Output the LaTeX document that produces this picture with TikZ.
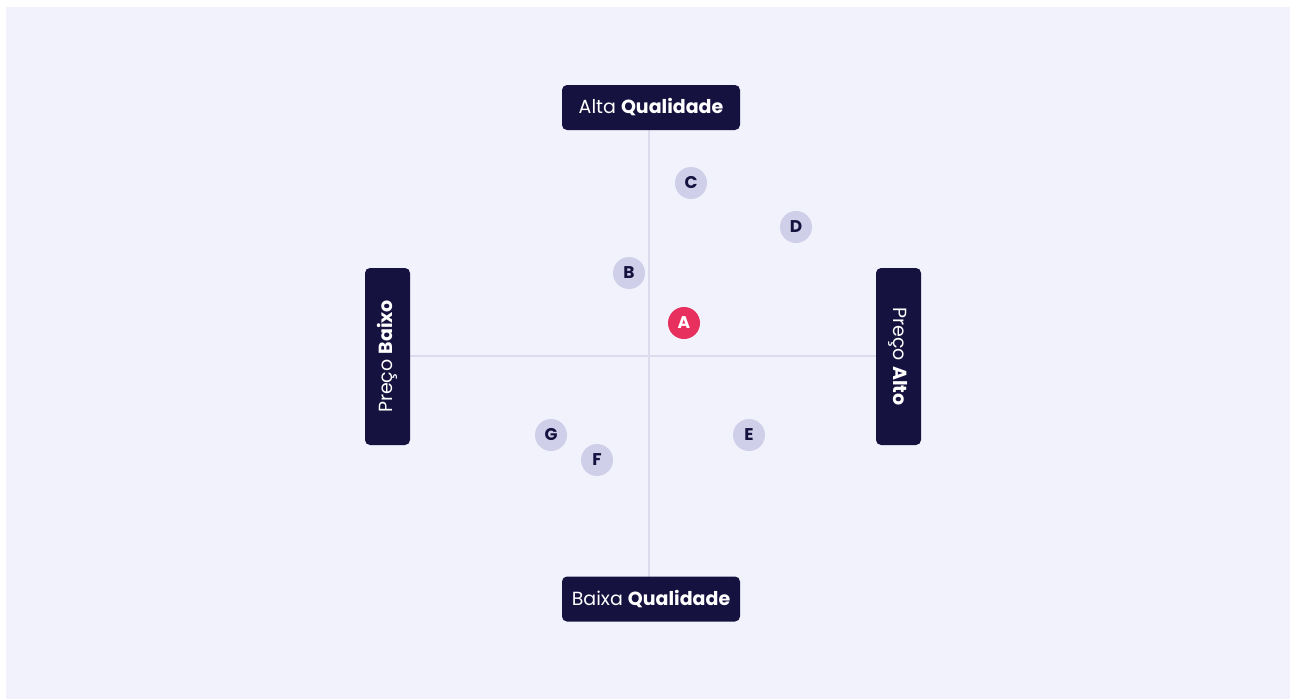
\documentclass[tikz,border=0pt]{standalone}
\usepackage{fontspec}
\setmainfont{Poppins}
\definecolor{bgc}{HTML}{F2F2FC}
\definecolor{navy}{HTML}{16123F}
\definecolor{dotc}{HTML}{CFCFE9}
\definecolor{redc}{HTML}{E8305E}
\definecolor{axisc}{HTML}{DCDCEC}
\tikzset{
  labelbox/.style={fill=navy, rounded corners=5pt, text=white, inner sep=0pt, font=\fontsize{19}{22}\selectfont},
  dot/.style={circle, fill=dotc, minimum size=32pt, inner sep=0pt, text=navy, font=\fontsize{17}{19}\selectfont\bfseries},
  reddot/.style={dot, fill=redc, text=white},
  axis/.style={draw=axisc, line width=1.6pt}
}
\begin{document}
\begin{tikzpicture}[x=1pt,y=-1pt]
\useasboundingbox (0,0) rectangle (1290,699);
\fill[white] (0,0) rectangle (1290,699);
\fill[bgc] (6,7) rectangle (1290,699);
% axes
\coordinate (vt) at (649,130);
\coordinate (vb) at (649,577);
\coordinate (hl) at (410,356);
\coordinate (hr) at (876,356);
\draw[axis] (vt) -- (vb);
\draw[axis] (hl) -- (hr);
% boxes
\node[labelbox, minimum width=178pt, minimum height=45pt] (top) at (651,107.5) {Alta \textbf{Qualidade}};
\node[labelbox, minimum width=178pt, minimum height=45pt] (bot) at (651,599) {Baixa \textbf{Qualidade}};
\node[labelbox, minimum width=177pt, minimum height=45pt, rotate=90] (left) at (387.5,356.5) {Preço \textbf{Baixo}};
\node[labelbox, minimum width=177pt, minimum height=45pt, rotate=-90] (right) at (898.5,356.5) {Preço \textbf{Alto}};
% dots
\node[dot] (C) at (691,183) {C};
\node[dot] (D) at (796,227) {D};
\node[dot] (B) at (629,273) {B};
\node[reddot] (A) at (684,323) {A};
\node[dot] (G) at (551,435) {G};
\node[dot] (F) at (597,460) {F};
\node[dot] (E) at (749,435) {E};
\end{tikzpicture}
\end{document}
